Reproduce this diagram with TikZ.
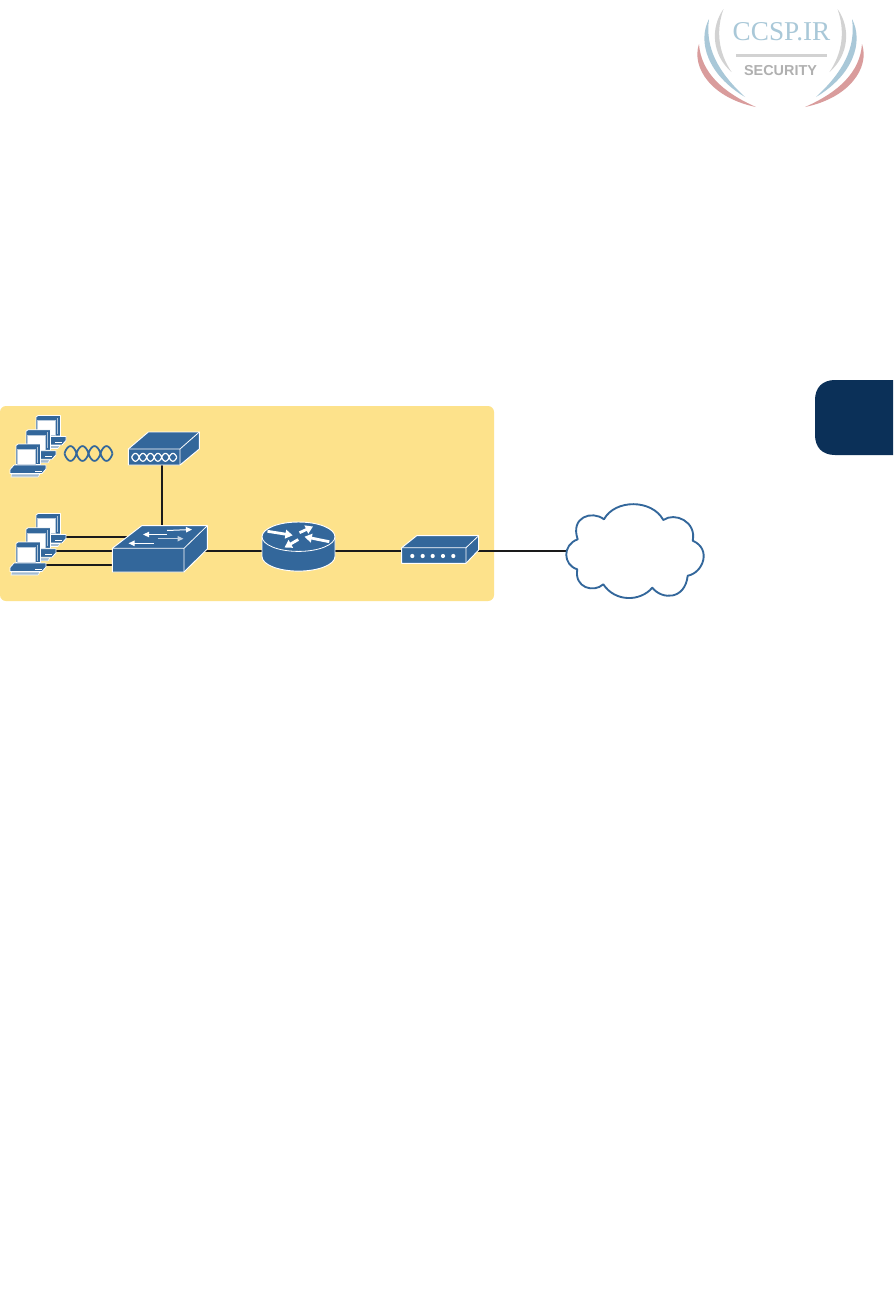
\documentclass[tikz,border=0pt]{standalone}
\usepackage{fontspec}
\setmainfont{Liberation Serif}
\setsansfont{Liberation Sans}
\usetikzlibrary{arrows.meta}
\definecolor{devblue}{HTML}{33679B}
\definecolor{panel}{HTML}{FDE28B}
\definecolor{tabnavy}{HTML}{0B3058}
\definecolor{wire}{HTML}{1A1A1A}
\definecolor{logoblue}{HTML}{A9C8D8}
\definecolor{logored}{HTML}{D99C9C}
\definecolor{logogray}{HTML}{D2D2D2}
\definecolor{logotext}{HTML}{B0B0B0}
\tikzset{
  wirelink/.style={draw=wire,line width=1.3pt},
  device/.style={fill=devblue,draw=white,line width=0.7pt,line join=round},
  swarrow/.style={draw=white,line width=0.75pt,-{Triangle[length=4.5pt,width=4pt]}},
  rtarrow/.style={draw=white,line width=2.1pt,-{Triangle[length=5.5pt,width=6.5pt]}},
  pcpart/.style={fill=devblue,draw=white,line width=0.6pt,line join=round},
  onepc/.pic={
    \path[pcpart] (0,0) -- (2,-1.5) -- (24.5,-1.5) -- (24.5,19) -- (0,19) -- cycle;
    \path[fill=white,draw=white!65!devblue,line width=0.4pt] (0.8,3.5) -- (19.5,3.5) -- (19.5,18.5) -- (0.8,18.5) -- cycle;
    \draw[white!60!devblue,line width=0.5pt] (21,1) -- (21,17);
    \path[pcpart] (-2,19.5) -- (30,19.5) -- (30,23.5) -- (26,28) -- (-6,28) -- (-6,24) -- cycle;
    \path[fill=white] (19,25) rectangle (26,26);
    \path[fill=white!55!devblue,draw=white,line width=0.4pt] (-4.5,28.5) -- (24,28.5) -- (22,31.5) -- (-5,31.5) -- cycle;
  },
  pcstack/.pic={
    \path (20,-28.5) pic {onepc};
    \path (10,-14.2) pic {onepc};
    \path (0,0) pic {onepc};
  }
}
\newcommand{\wavepath}[6]{% x0, yc, loop width, amplitude, loops, style
  \draw[#6,domain=0:#5*180,samples=#5*16+1,smooth] plot ({#1+\x/180*#3},{#2+#4*abs(sin(\x))^0.75});
  \draw[#6,domain=0:#5*180,samples=#5*16+1,smooth] plot ({#1+\x/180*#3},{#2-#4*abs(sin(\x))^0.75});
}
\newcommand{\logohalf}{%
  \fill[logogray] (723.5,9) .. controls (710,28) and (712,55) .. (731.5,72)
     .. controls (718,52) and (716,30) .. cycle;
  \fill[logoblue] (709,19) .. controls (697,42) and (708,75) .. (745,97)
     .. controls (718,72) and (705,48) .. cycle;
  \fill[logored] (699,44) .. controls (691,68) and (712,98) .. (756,107)
     .. controls (722,92) and (701,72) .. cycle;
}
\begin{document}
\begin{tikzpicture}[x=0.75pt,y=-0.75pt]
\useasboundingbox (0,0) rectangle (893,1314);
\fill[white] (0,0) rectangle (893,1314);

% logo
\logohalf
\begin{scope}[cm={-1,0,0,1,(1561,0)}]
\logohalf
\end{scope}
\node[inner sep=0pt,text=logoblue,font=\fontsize{20.4}{24}\selectfont] (logotitle) at (781.5,32) {CCSP.IR};
\fill[logogray] (735.5,53.5) rectangle (826.5,56.5);
\node[inner sep=0pt,text=logotext,font=\sffamily\bfseries\fontsize{10.8}{14}\selectfont] (logosub) at (780.5,71) {SECURITY};

% side tab
\fill[tabnavy] (893,380) -- (835,380) .. controls (822,380) and (815,388) .. (815,400)
  -- (815,435) .. controls (815,447) and (822,455) .. (835,455) -- (893,455) -- cycle;

% panel
\fill[panel,rounded corners=4.5pt] (0,406) rectangle (494,601);

% anchor points
\coordinate (pcA) at (64,536.7);
\coordinate (pcB) at (55,551);
\coordinate (pcC) at (44,564.7);
\coordinate (modem) at (162,457);
\coordinate (switch) at (162,551);
\coordinate (router) at (298.5,551);
\coordinate (csu) at (440,551);
\coordinate (cloudport) at (567,551);

% connectors
\draw[wirelink] (pcA) -- (pcA -| switch);
\draw[wirelink] (pcB) -- (switch);
\draw[wirelink] (pcC) -- (pcC -| switch);
\draw[wirelink] (modem) -- (switch);
\draw[wirelink] (switch) -- (router);
\draw[wirelink] (router) -- (csu);
\draw[wirelink] (csu) -- (cloudport);

% PCs
\path (16,445.5) pic {pcstack};
\path (16,543.5) pic {pcstack};

% wave
\wavepath{64.5}{453.5}{12}{7.4}{4}{draw=devblue,line width=1.3pt}

% modem
\path[device] (128.3,449) -- (148.3,432) -- (199.3,432) -- (199.3,449) -- (180,465) -- (128.3,465) -- cycle;
\draw[white,line width=0.6pt,line join=round] (128.3,449) -- (180,449) -- (199.3,432) (180,449) -- (180,465);
\wavepath{131.7}{457.3}{7.5}{3.9}{6}{draw=white,line width=0.9pt}

% switch
\path[device] (112.3,548.3) -- (141.7,525.7) -- (207.3,525.7) -- (207.3,549) -- (184,572) -- (112.3,572) -- cycle;
\draw[white,line width=0.6pt,line join=round] (112.3,548.3) -- (184,548.3) -- (207.3,525.7) (184,548.3) -- (184,572);
\draw[swarrow] (167,530.5) -- (192,529.5);
\draw[swarrow] (167,534.5) -- (143,534.5);
\draw[swarrow,draw=white!70!devblue] (157.5,538.7) -- (183.5,538.7);
\draw[swarrow] (153.5,543.3) -- (128.5,543.3);

% router
\path[device] (262,536.7) -- (262,556.5)
  .. controls (262,564.6) and (278.3,571.1) .. (298.5,571.1)
  .. controls (318.7,571.1) and (335,564.6) .. (335,556.5)
  -- (335,536.7)
  .. controls (335,528.6) and (318.7,522) .. (298.5,522)
  .. controls (278.3,522) and (262,528.6) .. (262,536.7) -- cycle;
\draw[white,line width=0.6pt] (262,536.7)
  .. controls (262,544.8) and (278.3,551.4) .. (298.5,551.4)
  .. controls (318.7,551.4) and (335,544.8) .. (335,536.7);
\draw[rtarrow] (267.5,531.3) -- (292.7,535.3);
\draw[rtarrow] (329.3,541.7) -- (304.5,536.7);
\draw[rtarrow] (299.5,532.7) -- (313,526.5);
\draw[rtarrow] (298.3,539.5) -- (284.5,547.5);

% csu
\path[device] (401.7,547.7) -- (416.7,535.7) -- (478.7,535.7) -- (478.7,550) -- (466,563.3) -- (401.7,563.3) -- cycle;
\draw[white,line width=0.6pt,line join=round] (401.7,547.7) -- (466,547.7) -- (478.7,535.7) (466,547.7) -- (466,563.3);
\foreach \dx in {412.3,422.7,432.7,443,453.3} \fill[white] (\dx,556) circle[radius=2.1];

% cloud
\path[fill=white,draw=devblue,line width=1.4pt,line join=round]
  (604,519.3) .. controls (615,499) and (652,499) .. (663.3,520)
  .. controls (675,511.7) and (696.7,521.7) .. (692.7,540.7)
  .. controls (712,549) and (703,573) .. (687.7,575.7)
  .. controls (685,600) and (662,600) .. (652.3,587.7)
  .. controls (640,602) and (615,602) .. (603.3,584.3)
  .. controls (594,593) and (574,588) .. (577.3,569.3)
  .. controls (563,565) and (562,545) .. (577.7,539.3)
  .. controls (570,517) and (592,510) .. cycle;
\end{tikzpicture}
\end{document}
